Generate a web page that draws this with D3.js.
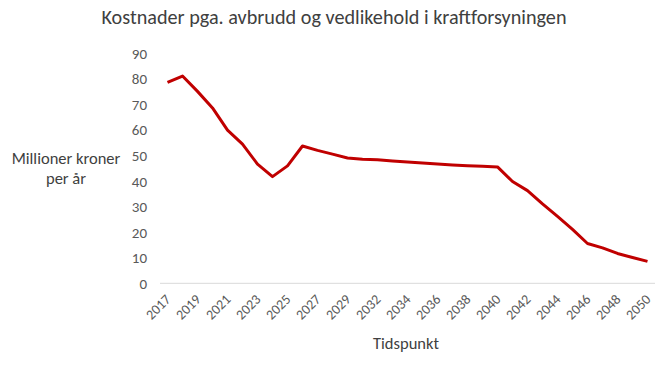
<!DOCTYPE html>
<html><head><meta charset="utf-8">
<script src="https://cdn.jsdelivr.net/npm/d3@7"></script>
<style>body{margin:0;background:#fff}svg{display:block}</style>
</head><body><svg id="c" width="664" height="374"></svg>
<script>
const years = ["2017","2018","2019","2020","2021","2022","2023","2024","2025","2026","2027","2028","2029","2030","2032","2033","2034","2035","2036","2037","2038","2039","2040","2041","2042","2043","2044","2045","2046","2047","2048","2049","2050"];
const costs = [78.7,81.2,75.2,68.7,60.0,54.5,46.7,41.8,46.0,53.8,52.1,50.6,49.1,48.6,48.4,47.9,47.5,47.1,46.7,46.4,46.1,45.9,45.6,39.9,36.3,31.1,26.2,21.1,15.6,13.9,11.7,10.1,8.6];
const yTicks = [0,10,20,30,40,50,60,70,80,90];
const title = "Kostnader pga. avbrudd og vedlikehold i kraftforsyningen";
const yTitle = ["Millioner kroner","per år"];
const xTitle = "Tidspunkt";

const svg = d3.select("#c");
const font = "Carlito, Lato, 'Open Sans', sans-serif";
const L = 160, R = 655, T = 53.6, B = 283.3;
const x = d3.scaleBand().domain(years).range([L, R]);
const y = d3.scaleLinear().domain([0, 90]).range([B, T]);

svg.append("text").attr("x", 334).attr("y", 24).attr("text-anchor","middle")
  .attr("font-family", font).attr("font-size", 20.2).attr("fill", "#404040").text(title);

// baseline
svg.append("line").attr("x1", L).attr("x2", R).attr("y1", y(0)).attr("y2", y(0))
  .attr("stroke", "#d9d9d9").attr("stroke-width", 1);

const yAxis = svg.append("g").attr("transform", `translate(${L},0)`)
  .call(d3.axisLeft(y).tickValues(yTicks).tickSize(0).tickPadding(13));
yAxis.select(".domain").remove();
yAxis.selectAll("text").attr("font-family", font).attr("font-size", 15).attr("fill", "#595959");

const xAxis = svg.append("g").attr("transform", `translate(0,${B})`)
  .call(d3.axisBottom(x).tickValues(years.filter((d,i)=>i%2===0)).tickSize(0).tickPadding(0));
xAxis.select(".domain").remove();
xAxis.selectAll("text").attr("font-family", font).attr("font-size", 14).attr("fill", "#595959")
  .attr("text-anchor", "end").attr("dy", null)
  .attr("transform", "translate(4,17) rotate(-45)");

svg.append("text").attr("text-anchor","middle").attr("font-family", font)
  .attr("font-size", 16.5).attr("fill", "#404040")
  .selectAll("tspan").data(yTitle).join("tspan")
  .attr("x", 66).attr("y", (d,i)=>164 + i*19.5).text(d=>d);

svg.append("text").attr("x", 406).attr("y", 349).attr("text-anchor","middle")
  .attr("font-family", font).attr("font-size", 16.5).attr("fill", "#404040").text(xTitle);

const line = d3.line().x((d,i)=>x(years[i]) + x.bandwidth()/2).y(d=>y(d));
svg.append("path").datum(costs).attr("d", line).attr("fill","none")
  .attr("stroke", "#c00000").attr("stroke-width", 3).attr("stroke-linejoin","round");
</script></body></html>
